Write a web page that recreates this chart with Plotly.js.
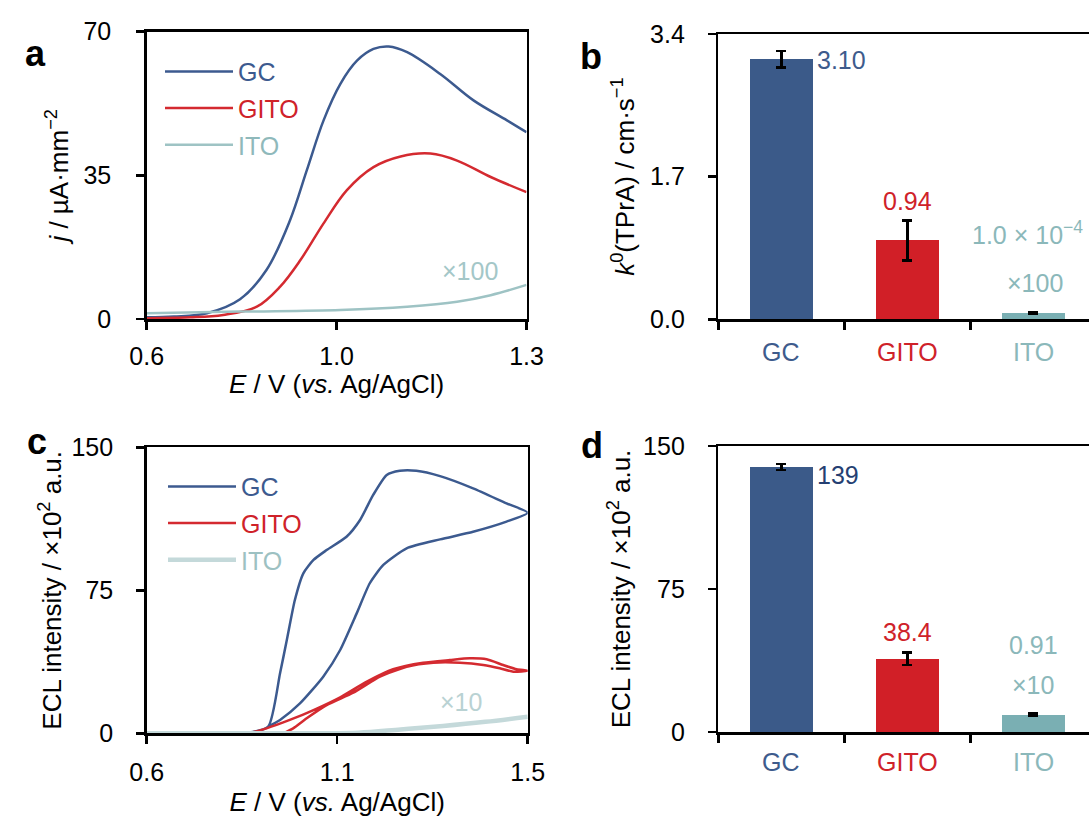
<!DOCTYPE html>
<html><head><meta charset="utf-8">
<script src="https://cdn.plot.ly/plotly-3.0.1.min.js"></script>
<style>html,body{margin:0;padding:0;background:#fff}#chart{width:1089px;height:821px}</style>
</head><body><div id="chart"></div>
<script>
// ================= DATA =================
const categories = ['GC', 'GITO', 'ITO'];

// Panel a: current density j (µA·mm-2) vs E (V); ITO shown x100
const aTickVals = [0.6, 0.95, 1.3];
const aTickText = ['0.6', '1.0', '1.3'];
const aGcE   = [0.6, 0.65, 0.711, 0.772, 0.821, 0.864, 0.895, 0.926, 0.957, 0.988, 1.018, 1.046, 1.08, 1.141, 1.203, 1.264, 1.3];
const aGcJ   = [0.4, 0.6, 1.4, 4.8, 12.0, 24, 36.2, 48.4, 57.3, 63, 65.8, 66.4, 65, 59.7, 53.2, 48.4, 45.5];
const aGitoE = [0.6, 0.68, 0.741, 0.803, 0.846, 0.883, 0.926, 0.969, 1.018, 1.068, 1.123, 1.172, 1.234, 1.3];
const aGitoJ = [0.2, 0.4, 1.0, 3.0, 7.9, 14.3, 23.3, 31.4, 37.0, 39.6, 40.3, 38.6, 34.6, 30.9];
const aItoE  = [0.6, 0.772, 0.957, 1.08, 1.172, 1.234, 1.3];
const aItoJ  = [1.4, 1.8, 2.2, 3.0, 4.2, 5.8, 8.3];

// Panel b: k0(TPrA) / cm·s-1 (ITO shown x100)
const bValues = [3.10, 0.94, 0.08];
const bErrors = [0.10, 0.24, 0.01];
const bLabels = ['3.10', '0.94', '1.0 × 10<sup>−4</sup>'];

// Panel c: ECL intensity (x10^2 a.u.) vs E (V); loops (forward + reverse), ITO shown x10
const cTickVals = [0.6, 1.05, 1.5];
const cTickText = ['0.6', '1.1', '1.5'];
const cGcEFwd   = [0.6, 0.84, 0.887, 0.915, 0.931, 0.95, 0.97, 0.994, 1.025, 1.072, 1.104, 1.135, 1.167, 1.198, 1.237, 1.293, 1.371, 1.45, 1.5];
const cGcIFwd   = [0, 0.3, 3.5, 31.5, 48.9, 69.9, 83.9, 90.9, 96.1, 103.1, 111.9, 125, 135.5, 137.7, 137.7, 134.9, 128.5, 120.6, 115.7];
const cGcERev   = [1.45, 1.371, 1.293, 1.214, 1.159, 1.127, 1.096, 1.057, 1.017, 0.962, 0.915, 0.887];
const cGcIRev   = [111, 105.7, 101.7, 97, 88.3, 78.7, 62.9, 43.7, 29.7, 15.7, 7, 3.5];
const cGitoEFwd = [0.6, 0.844, 0.883, 0.938, 0.994, 1.057, 1.12, 1.182, 1.253, 1.316, 1.363, 1.403, 1.442, 1.474, 1.5];
const cGitoIFwd = [0, 0.3, 2.6, 7.0, 12.2, 18.9, 27.1, 33.6, 37.0, 38.4, 39.3, 38.8, 35.8, 33.6, 32.8];
const cGitoERev = [1.466, 1.434, 1.395, 1.34, 1.277, 1.214, 1.151, 1.088, 1.025, 0.978, 0.946, 0.923];
const cGitoIRev = [32.3, 34.1, 35.8, 37.0, 37.0, 34.9, 29.7, 21.3, 14.8, 7.9, 2.6, 0];
const cItoE = [0.6, 1.0, 1.1, 1.2, 1.3, 1.4, 1.5];
const cItoI = [0, 0, 0.3, 2.0, 3.8, 6.0, 8.7];

// Panel d: ECL intensity (x10^2 a.u.) (ITO shown x10)
const dValues = [139, 38.4, 9.1];
const dErrors = [1.5, 3.3, 0.5];
const dLabels = ['139', '38.4', '0.91'];

// ================= STYLE =================
const FONT = 'Liberation Sans, Arial, sans-serif';
const FS = 25;      // tick labels, legend, value labels
const FT = 26;      // axis titles
const lineCol = {GC: '#3c5a8f', GITO: '#d42a30', ITO_a: '#9ec3c4', ITO_c: '#c4d9da'};
const legendTxt = ['#3c5a8f', '#cf2229', '#8fb9bb'];
const legendTxtC = ['#3c5a8f', '#cf2229', '#9dc1c2'];
const barCol = ['#3b5a89', '#d11f27', '#7aafb3'];
const txtCol = ['#3e5b8c', '#cf2229', '#8bb8ba'];

function px2fx(p) { return p / 1089; }
function py2fy(p) { return 1 - p / 821; }

const commonAxis = {
  showline: true, linecolor: '#000', linewidth: 2.5,
  ticks: 'outside', ticklen: 8, tickwidth: 2.5, tickcolor: '#000',
  showgrid: false, zeroline: false,
  tickfont: {family: FONT, size: FS, color: '#000'},
  fixedrange: true
};
function legendBox(xPx, topPx, color) {
  return {x: px2fx(xPx), y: py2fy(topPx), xanchor: 'left', yanchor: 'top', bgcolor: 'rgba(0,0,0,0)',
          font: {family: FONT, size: FS, color: color}, itemwidth: 68};
}

// ================= TRACES =================
const traces = [
  // panel a
  {x: aGcE, y: aGcJ, xaxis: 'x', yaxis: 'y', type: 'scatter', mode: 'lines', line: {color: lineCol.GC, width: 2.5, shape: 'spline'},
   name: 'GC', legend: 'legend'},
  {x: aGitoE, y: aGitoJ, xaxis: 'x', yaxis: 'y', type: 'scatter', mode: 'lines', line: {color: lineCol.GITO, width: 2.5, shape: 'spline'},
   name: 'GITO', legend: 'legend2'},
  {x: aItoE, y: aItoJ, xaxis: 'x', yaxis: 'y', type: 'scatter', mode: 'lines', line: {color: lineCol.ITO_a, width: 2.5, shape: 'spline'},
   name: 'ITO', legend: 'legend3'},
  // panel b
  {x: categories, y: bValues, xaxis: 'x2', yaxis: 'y2', type: 'bar', width: 0.5,
   marker: {color: barCol, line: {width: 0}},
   error_y: {type: 'data', array: bErrors, visible: true, color: '#000', thickness: 2.5, width: 5},
   showlegend: false},
  // panel c
  {x: cGcEFwd.concat(cGcERev), y: cGcIFwd.concat(cGcIRev), xaxis: 'x3', yaxis: 'y3', type: 'scatter', mode: 'lines',
   line: {color: lineCol.GC, width: 2.5, shape: 'spline', smoothing: 0.6},
   name: 'GC', legend: 'legend4'},
  {x: cGitoEFwd.concat(cGitoERev), y: cGitoIFwd.concat(cGitoIRev), xaxis: 'x3', yaxis: 'y3', type: 'scatter', mode: 'lines',
   line: {color: lineCol.GITO, width: 2.5, shape: 'spline', smoothing: 0.6},
   name: 'GITO', legend: 'legend5'},
  {x: cItoE, y: cItoI, xaxis: 'x3', yaxis: 'y3', type: 'scatter', mode: 'lines',
   line: {color: lineCol.ITO_c, width: 4.5, shape: 'spline'},
   name: 'ITO', legend: 'legend6'},
  // panel d
  {x: categories, y: dValues, xaxis: 'x4', yaxis: 'y4', type: 'bar', width: 0.5,
   marker: {color: barCol, line: {width: 0}},
   error_y: {type: 'data', array: dErrors, visible: true, color: '#000', thickness: 2.5, width: 5},
   showlegend: false}
];

// ================= LAYOUT =================
const xTitle = '<i>E</i> / V (<i>vs.</i> Ag/AgCl)';

// category labels below the bar axes, coloured per category
const catLabelAnnots = [];
categories.forEach((c, i) => {
  catLabelAnnots.push({text: c, xref: 'x2', yref: 'y2 domain', x: c, y: 0, xanchor: 'center', yanchor: 'middle', yshift: -33,
                       showarrow: false, font: {family: FONT, size: FS, color: txtCol[i]}});
  catLabelAnnots.push({text: c, xref: 'x4', yref: 'y4 domain', x: c, y: 0, xanchor: 'center', yanchor: 'middle', yshift: -30,
                       showarrow: false, font: {family: FONT, size: FS, color: txtCol[i]}});
});

const layout = {
  width: 1089, height: 821,
  margin: {l: 0, r: 0, t: 0, b: 0},
  paper_bgcolor: '#fff', plot_bgcolor: '#fff',
  font: {family: FONT, size: FS, color: '#000'},
  showlegend: true,
  bargap: 0,
  xaxis: Object.assign({}, commonAxis, {
    domain: [px2fx(146.7), px2fx(526.5)], anchor: 'y', range: [0.6, 1.3], mirror: true,
    tickmode: 'array', tickvals: aTickVals, ticktext: aTickText, ticklabelstandoff: 5,
    title: {text: xTitle, font: {family: FONT, size: FT}, standoff: 6}
  }),
  yaxis: Object.assign({}, commonAxis, {
    domain: [py2fy(319), py2fy(31.7)], anchor: 'x', range: [0, 70], mirror: true,
    tickmode: 'array', tickvals: [0, 35, 70], ticklabelstandoff: 20,
    title: {text: '<i>j</i> / µA·mm<sup>−2</sup>', font: {family: FONT, size: FT}, standoff: 8}
  }),
  xaxis2: Object.assign({}, commonAxis, {
    domain: [px2fx(718.3), 1], anchor: 'y2', type: 'category', range: [-0.5, 2.442], mirror: true,
    tickmode: 'array', tickvals: categories, tickson: 'boundaries', showticklabels: false
  }),
  yaxis2: Object.assign({}, commonAxis, {
    domain: [py2fy(319.3), py2fy(34)], anchor: 'x2', range: [0, 3.4], mirror: false,
    tickmode: 'array', tickvals: [0, 1.7, 3.4], tickformat: '.1f', ticklabelstandoff: 18,
    title: {text: '<i>k</i><sup>0</sup>(TPrA) / cm·s<sup>−1</sup>', font: {family: FONT, size: FT}, standoff: 8}
  }),
  xaxis3: Object.assign({}, commonAxis, {
    domain: [px2fx(146.7), px2fx(527.7)], anchor: 'y3', range: [0.6, 1.5], mirror: true,
    tickmode: 'array', tickvals: cTickVals, ticktext: cTickText, ticklabelstandoff: 7,
    title: {text: xTitle, font: {family: FONT, size: FT}, standoff: 8}
  }),
  yaxis3: Object.assign({}, commonAxis, {
    domain: [py2fy(733.3), py2fy(447.3)], anchor: 'x3', range: [0, 150], mirror: true,
    tickmode: 'array', tickvals: [0, 75, 150], ticklabelstandoff: 18,
    title: {text: 'ECL intensity / ×10<sup>2</sup> a.u.', font: {family: FONT, size: FT}, standoff: 3}
  }),
  xaxis4: Object.assign({}, commonAxis, {
    domain: [px2fx(718.3), 1], anchor: 'y4', type: 'category', range: [-0.5, 2.442], mirror: true,
    tickmode: 'array', tickvals: categories, tickson: 'boundaries', showticklabels: false
  }),
  yaxis4: Object.assign({}, commonAxis, {
    domain: [py2fy(732), py2fy(446)], anchor: 'x4', range: [0, 150], mirror: false,
    tickmode: 'array', tickvals: [0, 75, 150], ticklabelstandoff: 18,
    title: {text: 'ECL intensity / ×10<sup>2</sup> a.u.', font: {family: FONT, size: FT}, standoff: 5}
  }),
  legend:  legendBox(160, 48.7, legendTxt[0]),
  legend2: legendBox(160, 85.3, legendTxt[1]),
  legend3: legendBox(160, 122, legendTxt[2]),
  legend4: legendBox(163, 463.7, legendTxtC[0]),
  legend5: legendBox(163, 500.3, legendTxtC[1]),
  legend6: legendBox(163, 537, legendTxtC[2]),
  annotations: [
    // panel letters
    {text: '<b>a</b>', xref: 'paper', yref: 'paper', x: px2fx(23), y: py2fy(31), showarrow: false, font: {family: FONT, size: 36, color: '#000'}},
    {text: '<b>b</b>', xref: 'paper', yref: 'paper', x: px2fx(591), y: py2fy(34), showarrow: false, font: {family: FONT, size: 36, color: '#000'}},
    {text: '<b>c</b>', xref: 'paper', yref: 'paper', x: px2fx(25), y: py2fy(442), showarrow: false, font: {family: FONT, size: 36, color: '#000'}},
    {text: '<b>d</b>', xref: 'paper', yref: 'paper', x: px2fx(592), y: py2fy(446), showarrow: false, font: {family: FONT, size: 36, color: '#000'}},
    // scale notes on curves
    {text: '×100', xref: 'x', yref: 'y', x: aItoE[aItoE.length - 1], y: aItoJ[aItoJ.length - 1], xanchor: 'right', yanchor: 'middle', xshift: -27, yshift: 14, showarrow: false, font: {family: FONT, size: FS, color: '#a4c7c8'}},
    {text: '×10', xref: 'x3', yref: 'y3', x: cItoE[cItoE.length - 1], y: cItoI[cItoI.length - 1], xanchor: 'right', yanchor: 'middle', xshift: -44, yshift: 15, showarrow: false, font: {family: FONT, size: FS, color: '#b9d2d3'}},
    // panel b value labels
    {text: bLabels[0], xref: 'x2', yref: 'y2', x: categories[0], y: bValues[0], xanchor: 'left', yanchor: 'middle', xshift: 34, yshift: -1, showarrow: false, font: {family: FONT, size: FS, color: txtCol[0]}},
    {text: bLabels[1], xref: 'x2', yref: 'y2', x: categories[1], y: bValues[1] + bErrors[1], xanchor: 'center', yanchor: 'middle', yshift: 19, showarrow: false, font: {family: FONT, size: FS, color: txtCol[1]}},
    {text: bLabels[2], xref: 'x2', yref: 'y2', x: categories[2], y: bValues[2], xanchor: 'center', yanchor: 'middle', xshift: -6, yshift: 80, showarrow: false, font: {family: FONT, size: FS, color: txtCol[2]}},
    {text: '×100', xref: 'x2', yref: 'y2', x: categories[2], y: bValues[2], xanchor: 'center', yanchor: 'middle', xshift: 2, yshift: 30, showarrow: false, font: {family: FONT, size: FS, color: txtCol[2]}},
    // panel d value labels
    {text: dLabels[0], xref: 'x4', yref: 'y4', x: categories[0], y: dValues[0], xanchor: 'left', yanchor: 'middle', xshift: 34, yshift: -8, showarrow: false, font: {family: FONT, size: FS, color: '#253f72'}},
    {text: dLabels[1], xref: 'x4', yref: 'y4', x: categories[1], y: dValues[1], xanchor: 'center', yanchor: 'middle', yshift: 27, showarrow: false, font: {family: FONT, size: FS, color: txtCol[1]}},
    {text: dLabels[2], xref: 'x4', yref: 'y4', x: categories[2], y: dValues[2], xanchor: 'center', yanchor: 'middle', yshift: 70, showarrow: false, font: {family: FONT, size: FS, color: txtCol[2]}},
    {text: '×10', xref: 'x4', yref: 'y4', x: categories[2], y: dValues[2], xanchor: 'center', yanchor: 'middle', yshift: 30, showarrow: false, font: {family: FONT, size: FS, color: txtCol[2]}}
  ].concat(catLabelAnnots)
};

Plotly.newPlot('chart', traces, layout, {displayModeBar: false, staticPlot: true});
</script>
</body></html>
